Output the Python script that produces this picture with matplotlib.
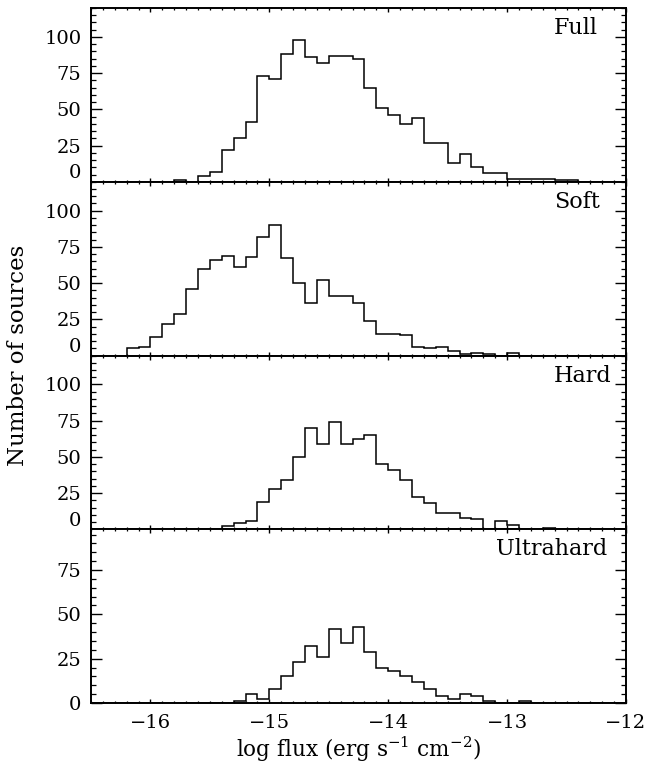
import numpy as np
import matplotlib
matplotlib.use("Agg")
import matplotlib.pyplot as plt
from matplotlib.ticker import MultipleLocator

# bins of width 0.1 in log flux, from -16.5 to -12.0
bin_edges = np.round(np.arange(-16.5, -11.95, 0.1), 1)

full_counts = [0, 0, 0, 0, 0, 0, 0, 1, 0, 4, 7, 22, 30, 41, 73, 71, 88, 98, 86, 82,
               87, 87, 85, 65, 51, 46, 40, 44, 27, 27, 13, 19, 10, 6, 6, 2, 2, 2, 2, 1,
               1, 0, 0, 0, 0]
soft_counts = [0, 0, 0, 5, 6, 13, 22, 29, 46, 60, 66, 69, 61, 68, 82, 90, 67, 50, 36, 52,
               41, 41, 36, 24, 15, 15, 14, 6, 5, 6, 3, 1, 2, 1, 0, 2, 0, 0, 0, 0,
               0, 0, 0, 0, 0]
hard_counts = [0, 0, 0, 0, 0, 0, 0, 0, 0, 0, 0, 2, 4, 6, 19, 28, 34, 50, 70, 59,
               74, 59, 62, 65, 45, 41, 34, 22, 18, 11, 11, 8, 7, 0, 6, 3, 0, 0, 1, 0,
               0, 0, 0, 0, 0]
ultrahard_counts = [0, 0, 0, 0, 0, 0, 0, 0, 0, 0, 0, 0, 1, 5, 2, 8, 15, 23, 32, 26,
                    42, 34, 43, 29, 20, 18, 15, 12, 8, 4, 2, 5, 4, 1, 0, 0, 1, 0, 0, 0,
                    0, 0, 0, 0, 0]

band_names = ["Full", "Soft", "Hard", "Ultrahard"]
band_counts = [full_counts, soft_counts, hard_counts, ultrahard_counts]
y_tops = [120, 120, 120, 98]
y_tick_values = [[0, 25, 50, 75, 100], [0, 25, 50, 75, 100],
                 [0, 25, 50, 75, 100], [0, 25, 50, 75]]
x_tick_values = [-16, -15, -14, -13, -12]
x_tick_labels = ["\u221216", "\u221215", "\u221214", "\u221213", "\u221212"]

plt.rcParams['font.family'] = ['DejaVu Serif']
plt.rcParams['mathtext.fontset'] = 'dejavuserif'

W, H = 648, 773
fig = plt.figure(figsize=(W / 100, H / 100), dpi=100)

left_px, right_px = 91, 626
top_px, bottom_px = 8, 703
panel_h = (bottom_px - top_px) / 4
label_x_px = [554, 554, 554, 496]

fs = 14
for k, (name, counts) in enumerate(zip(band_names, band_counts)):
    y0 = top_px + k * panel_h
    ax = fig.add_axes([left_px / W, 1 - (y0 + panel_h) / H,
                       (right_px - left_px) / W, panel_h / H])
    ax.stairs(counts, bin_edges, color='black', lw=1.1, baseline=0)
    ax.set_xlim(-16.5, -12.0)
    ax.set_ylim(0, y_tops[k])
    for sp in ax.spines.values():
        sp.set_linewidth(1.4)
    ax.xaxis.set_minor_locator(MultipleLocator(0.1))
    ax.yaxis.set_minor_locator(MultipleLocator(5))
    ax.set_xticks(x_tick_values)
    ax.set_yticks(y_tick_values[k])
    ax.tick_params(axis='x', which='major', direction='in', top=True, bottom=True,
                   length=2.6, width=1.0, pad=8, labelsize=fs)
    ax.tick_params(axis='x', which='minor', direction='in', top=True, bottom=True,
                   length=1.4, width=0.9)
    ax.tick_params(axis='y', which='major', direction='in', left=True, right=True,
                   length=7.7, width=1.0, pad=7, labelsize=fs)
    ax.tick_params(axis='y', which='minor', direction='in', left=True, right=True,
                   length=3.8, width=0.9)
    ylabels = [str(v) for v in y_tick_values[k]]
    if k < 3:
        ylabels[0] = ""
        ax.annotate("0", xy=(0, 0), xycoords=('axes fraction', 'data'),
                    xytext=(-7, 6), textcoords='offset points',
                    ha='right', va='center', fontsize=fs)
    ax.set_yticklabels(ylabels)
    if k == 3:
        ax.set_xticklabels(x_tick_labels)
        ax.set_xlabel("log flux (erg s$^{-1}$ cm$^{-2}$)", fontsize=15.5, labelpad=2)
    else:
        ax.set_xticklabels([])
    ax.text((label_x_px[k] - left_px) / (right_px - left_px), 1 - 20 / panel_h, name,
            transform=ax.transAxes, ha='left', va='center', fontsize=16)

fig.text(18 / W, 1 - 355 / H, "Number of sources", rotation=90,
         ha='center', va='center', fontsize=16.5)

fig.savefig("out.png", dpi=100)
